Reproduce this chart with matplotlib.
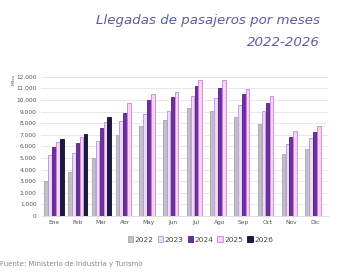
import numpy as np
import matplotlib.pyplot as plt
from matplotlib.ticker import FuncFormatter

meses = ['Ene', 'Feb', 'Mar', 'Abr', 'May', 'Jun', 'Jul', 'Ago', 'Sep', 'Oct', 'Nov', 'Dic']
anios = ['2022', '2023', '2024', '2025', '2026']

# miles de pasajeros
v2022 = [3000, 3800, 5000, 7000, 7750, 8280, 9280, 9020, 8500, 7960, 5300, 5750]
v2023 = [5250, 5400, 6500, 8150, 8800, 9080, 10340, 10140, 9600, 9020, 6180, 6700]
v2024 = [5900, 6300, 7600, 8850, 9970, 10230, 11240, 11060, 10550, 9740, 6810, 7210]
v2025 = [6350, 6800, 8100, 9700, 10500, 10660, 11700, 11700, 10950, 10320, 7330, 7730]
v2026 = [6670, 7100, 8560]

series = [v2022, v2023, v2024, v2025, v2026]
relleno = ['#c3bfc8', '#ecdcf7', '#7030a0', '#f8d3f6', '#1c1a44']
borde = ['#a9a5b0', '#b893d8', '#4e1f80', '#c684d9', '#0e0c28']

fig = plt.figure(figsize=(3.5, 2.74), dpi=100)
ax = fig.add_axes([0.117, 0.212, 0.82, 0.508])

x = np.arange(len(meses))
w = 0.165
for i, (vals, nombre) in enumerate(zip(series, anios)):
    pos = x[:len(vals)] + (i - 2) * w
    ax.bar(pos, vals, width=w * 0.9, color=relleno[i], edgecolor=borde[i],
           linewidth=0.6, label=nombre, zorder=3)

ax.set_ylim(0, 12000)
ax.set_xlim(-0.55, 11.55)
ax.set_yticks(range(0, 12001, 1000))
ax.yaxis.set_major_formatter(FuncFormatter(lambda v, p: f'{int(v):,}'.replace(',', '.')))
ax.set_xticks(x)
ax.set_xticklabels(meses)
ax.tick_params(axis='both', length=0, labelsize=4.2, colors='#555555', pad=3)
ax.grid(axis='y', color='#e4e4e4', linewidth=0.6, zorder=0)
for s in ['top', 'right', 'left']:
    ax.spines[s].set_visible(False)
ax.spines['bottom'].set_color('#d8d8d8')
ax.spines['bottom'].set_linewidth(0.6)

fig.text(0.033, 0.71, 'Miles', rotation=90, fontsize=3.2, color='#555555', va='center')

fig.text(0.914, 0.925, 'Llegadas de pasajeros por meses', ha='right', va='center',
         fontsize=9.6, style='italic', color='#5b5ca5')
fig.text(0.914, 0.845, '2022-2026', ha='right', va='center',
         fontsize=9.6, style='italic', color='#5b5ca5')

leg = ax.legend(loc='upper center', bbox_to_anchor=(0.555, -0.1), ncol=5, frameon=False,
                fontsize=5.3, handlelength=0.7, handleheight=0.7, handletextpad=0.2,
                columnspacing=0.6, labelcolor='#444444')

fig.text(0.0, 0.025, 'Fuente: Ministerio de Industria y Turismo', fontsize=5,
         color='#888888', ha='left', va='bottom')

plt.savefig('out.png', dpi=100)
